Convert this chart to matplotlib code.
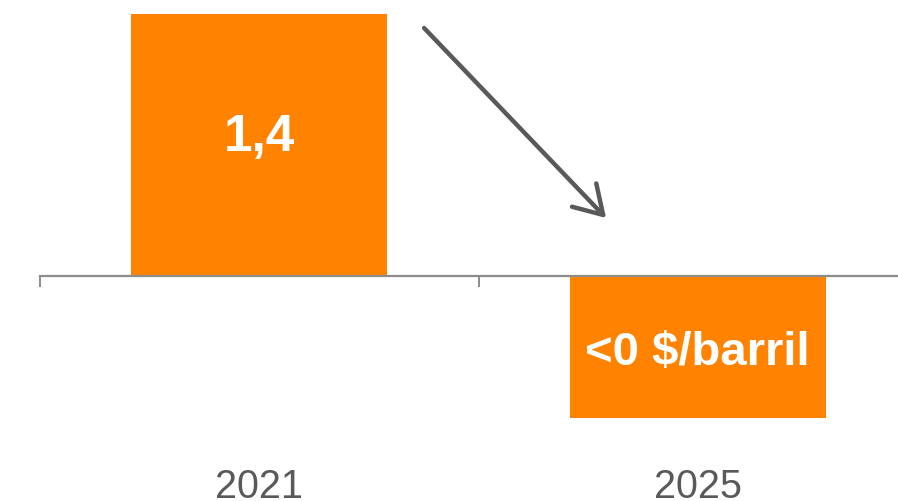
import matplotlib.pyplot as plt
from matplotlib.transforms import blended_transform_factory

plt.rcParams['font.family'] = ['Liberation Sans', 'DejaVu Sans']

# Data
years = ["2021", "2025"]
values = [1.4, -0.76]
bar_labels = ["1,4", "<0 $/barril"]
label_sizes = [37, 34]

orange = "#FF8300"
gray_axis = "#8C8C8C"
gray_text = "#595959"

fig = plt.figure(figsize=(8.98, 5.01), dpi=100)
# axes extends past the right edge so the second category is cut off like the original
ax = fig.add_axes([40 / 898, 0, 877 / 898, 1])

x = list(range(len(years)))
ax.bar(x, values, width=0.584, color=orange, zorder=2)

ax.set_xlim(-0.5, len(years) - 0.5)
ax.set_ylim(-(501 - 276) / 187, 276 / 187)

# value labels inside bars
for xi, v, lab, fs in zip(x, values, bar_labels, label_sizes):
    ax.text(xi, v / 2 + (0.04 if v > 0 else -0.03), lab, ha="center", va="center",
            color="white", fontsize=fs, fontweight="bold", zorder=3)

# zero line with category boundary ticks
for s in ["top", "right", "left"]:
    ax.spines[s].set_visible(False)
ax.spines["bottom"].set_position(("data", 0))
ax.spines["bottom"].set_color(gray_axis)
ax.spines["bottom"].set_linewidth(1.6)
ax.spines["bottom"].set_zorder(4)
ax.set_yticks([])
ax.set_xticks([i - 0.5 for i in range(len(years) + 1)])
ax.set_xticklabels([])
ax.tick_params(axis="x", direction="out", length=8, width=1.4, color=gray_axis)

# year labels at the bottom
trans = blended_transform_factory(ax.transData, ax.transAxes)
for xi, yr in zip(x, years):
    ax.text(xi, 0.006, yr, transform=trans, ha="center", va="baseline",
            color=gray_text, fontsize=28.5)

# downward trend arrow
ax.annotate("", xy=(0.791, 0.31), xytext=(0.376, 1.326),
            arrowprops=dict(arrowstyle="->,head_length=0.9,head_width=0.55",
                            color=gray_text, lw=3.2, mutation_scale=22,
                            shrinkA=0, shrinkB=0, capstyle="round",
                            joinstyle="round"))

fig.savefig("out.png", dpi=100)
